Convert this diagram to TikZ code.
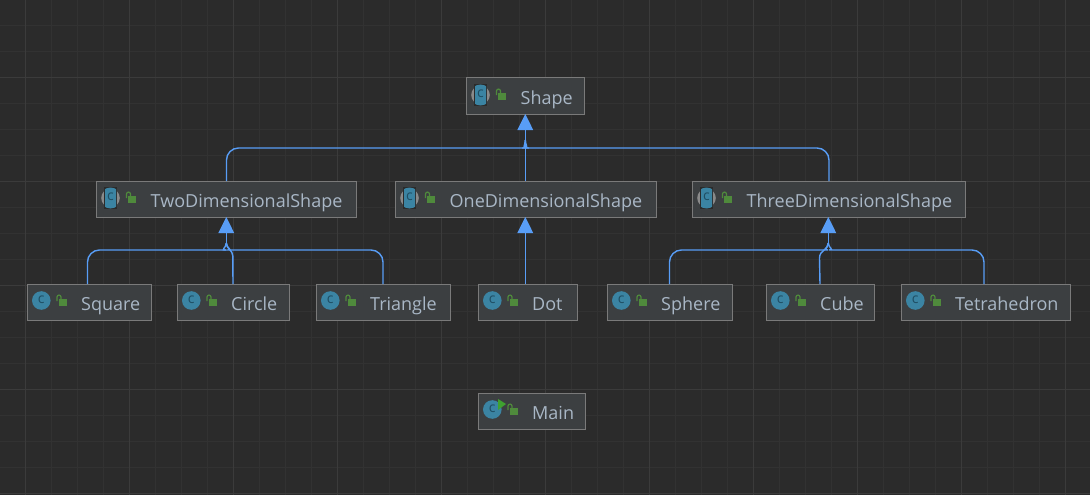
\documentclass[tikz,border=0pt]{standalone}
\usepackage{fontspec}
\setmainfont{Open Sans}
\usetikzlibrary{arrows.meta}
\definecolor{bgc}{HTML}{2B2B2B}
\definecolor{gmin}{HTML}{323232}
\definecolor{gmaj}{HTML}{3B3B3B}
\definecolor{boxc}{HTML}{3C3F41}
\definecolor{edgec}{HTML}{7A7A7A}
\definecolor{txtc}{HTML}{A9B7C6}
\definecolor{blu}{HTML}{589DF6}
\definecolor{icon}{HTML}{3B84A3}
\definecolor{icond}{HTML}{1F4E63}
\definecolor{lockc}{HTML}{4F8A3C}
\definecolor{greyc}{HTML}{8A8A8A}
\tikzset{
  x=1pt,y=-1pt,
  clsbox/.style={draw=edgec,fill=boxc,line width=1pt,inner sep=0pt,outer sep=0pt,minimum height=36pt},
  lbl/.style={text=txtc,inner sep=0pt,anchor=base west,font=\fontsize{18}{20}\selectfont},
  ctxt/.style={text=icond,inner sep=0pt,font=\fontsize{14}{14}\selectfont},
  inh/.style={draw=blu,line width=1.4pt},
  inhhead/.style={inh,-{Triangle[width=15.5pt,length=16pt,fill=blu]}},
}
% name, left, right, top, text
\newcommand{\cbox}[5]{%
  \node[clsbox,minimum width=#3pt-#2pt,anchor=north west] (#1) at (#2,#4) {};
  \node[lbl] (#1-t) at (#2+54,#4+26) {#5};
  \fill[lockc] (#2+31.7,#4+15) rectangle (#2+39.7,#4+21.7);
  \draw[lockc,line width=1.2pt] (#2+30,#4+17) -- (#2+30,#4+13) .. controls (#2+30,#4+10.5) and (#2+34,#4+10.5) .. (#2+34,#4+13) -- (#2+34,#4+15);
}
\newcommand{\cicon}[2]{%
  \fill[icon] (#1+14.3,#2+16.5) circle[radius=9.3];
  \node[ctxt] at (#1+14.3,#2+15.3) {c};
}
\newcommand{\aicon}[2]{%
  \fill[greyc] (#1+14,#2+17) circle[radius=9.3];
  \fill[bgc] (#1+7.5,#2+6) rectangle (#1+20.5,#2+28);
  \begin{scope}
    \clip (#1+8.5,#2+6) rectangle (#1+19.5,#2+28);
    \fill[icon] (#1+14,#2+17) circle[radius=10.5];
  \end{scope}
  \node[ctxt] at (#1+14,#2+15.8) {c};
}
\begin{document}
\begin{tikzpicture}
\useasboundingbox (0,0) rectangle (1090,495);
\fill[bgc] (0,0) rectangle (1090,495);
\foreach \i in {0,...,42} \draw[gmin,line width=1pt] ({25.5+26*(\i-0)},0) -- ({25.5+26*(\i-0)},495);
\foreach \i in {0,...,19} \draw[gmin,line width=1pt] (0,{25.5+26*\i}) -- (1090,{25.5+26*\i});
\foreach \i in {0,...,10} \draw[gmaj,line width=1pt] ({25.5+104*\i},0) -- ({25.5+104*\i},495);
\foreach \i in {0,...,4} \draw[gmaj,line width=1pt] (0,{77.5+104*\i}) -- (1090,{77.5+104*\i});

\cbox{shape}{466.5}{584.5}{78}{Shape}
\cbox{two}{96.5}{356.5}{181}{TwoDimensionalShape}
\cbox{one}{395.5}{656.5}{181}{OneDimensionalShape}
\cbox{three}{692.5}{965.5}{181}{ThreeDimensionalShape}
\cbox{square}{27}{151}{284}{Square}
\cbox{circle}{177}{289}{284}{Circle}
\cbox{triangle}{316}{450}{284}{Triangle}
\cbox{dot}{478}{577}{284}{Dot}
\cbox{sphere}{607}{732}{284}{Sphere}
\cbox{cube}{766}{874}{284}{Cube}
\cbox{tetra}{901}{1070}{284}{Tetrahedron}
\cbox{main}{478}{585}{393}{Main}

\aicon{466.5}{78}
\aicon{96.5}{181}
\aicon{395.5}{181}
\aicon{692.5}{181}
\cicon{27}{284}\cicon{177}{284}\cicon{316}{284}\cicon{478}{284}
\cicon{607}{284}\cicon{766}{284}\cicon{901}{284}
\cicon{478}{393}
\fill[lockc!80!green] (478+20,393+6) -- (478+28,393+11) -- (478+20,393+17) -- cycle;

% merge points just below each arrowhead
\coordinate (mS) at ([xshift=-0.2pt,yshift=-26pt]shape.south);
\coordinate (mT) at ([xshift=-0.2pt,yshift=-26pt]two.south);
\coordinate (mO) at ([xshift=-0.7pt]one.south);
\coordinate (mH) at ([xshift=-0.7pt,yshift=-26pt]three.south);

% connectors
\draw[inh,rounded corners=12pt] (two.north) -- (two.north |- 0,148) -- (517,148) .. controls (521,148) and (525.3,146) .. (mS);
\draw[inh,rounded corners=12pt] (three.north) -- (three.north |- 0,148) -- (534,148) .. controls (530,148) and (525.3,146) .. (mS);
\draw[inhhead] (one.north -| mS) -- (shape.south -| mS);

\draw[inh,rounded corners=12pt] ([xshift=-1.5pt]square.north) -- ([xshift=-1.5pt]square.north |- 0,250) -- (214,250) .. controls (220,250) and (226.3,248) .. (mT);
\draw[inh,rounded corners=12pt] (triangle.north) -- (triangle.north |- 0,250) -- (240,250) .. controls (233,250) and (226.3,248) .. (mT);
\draw[inh] (circle.north) -- (232.8,256) .. controls (232.8,250) and (226.3,249) .. (mT);
\draw[inhhead] (mT) -- (two.south -| mT);

\draw[inhhead] (dot.north -| mO) -- (mO);

\draw[inh,rounded corners=12pt] (sphere.north) -- (sphere.north |- 0,250) -- (816,250) .. controls (822,250) and (828.3,248) .. (mH);
\draw[inh,rounded corners=12pt] ([xshift=-1.5pt]tetra.north) -- ([xshift=-1.5pt]tetra.north |- 0,250) -- (841,250) .. controls (835,250) and (828.3,248) .. (mH);
\draw[inh] (cube.north) -- (819.5,258) .. controls (819.5,250) and (828.3,250) .. (mH);
\draw[inhhead] (mH) -- (three.south -| mH);
\end{tikzpicture}
\end{document}
